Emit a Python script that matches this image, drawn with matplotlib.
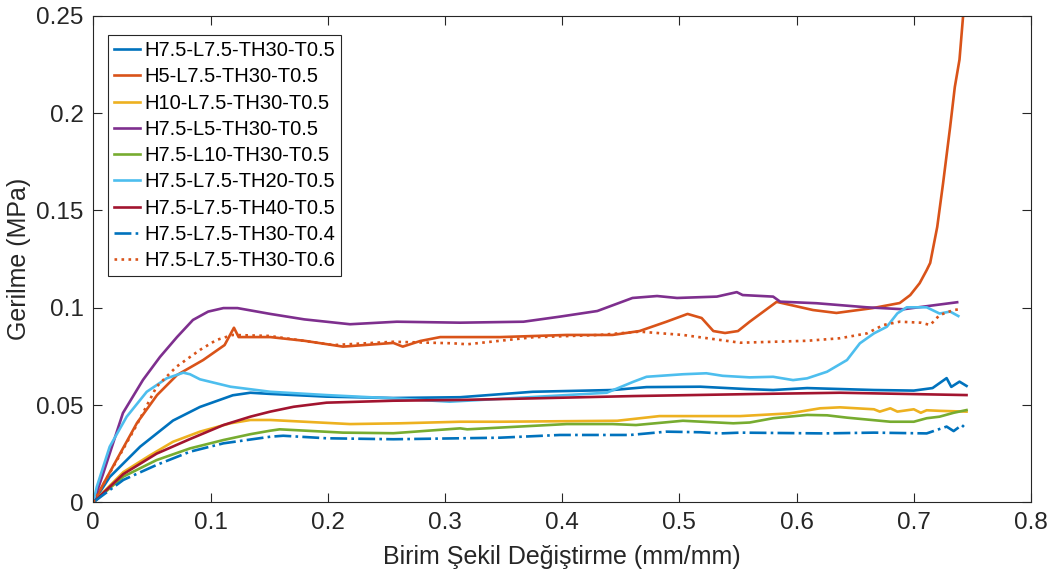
import matplotlib
matplotlib.use("Agg")
import matplotlib.pyplot as plt

plt.rcParams['font.family'] = ['Liberation Sans', 'DejaVu Sans']

labels = ["H7.5-L7.5-TH30-T0.5", "H5-L7.5-TH30-T0.5", "H10-L7.5-TH30-T0.5",
          "H7.5-L5-TH30-T0.5", "H7.5-L10-TH30-T0.5", "H7.5-L7.5-TH20-T0.5",
          "H7.5-L7.5-TH40-T0.5", "H7.5-L7.5-TH30-T0.4", "H7.5-L7.5-TH30-T0.6"]

x_blue = [0, 0.014, 0.040, 0.068, 0.091, 0.119, 0.134, 0.151, 0.199, 0.256, 0.313, 0.375, 0.443, 0.472,
          0.518, 0.557, 0.580, 0.609, 0.666, 0.70, 0.716, 0.728, 0.732, 0.739, 0.745]
y_blue = [0, 0.013, 0.0286, 0.042, 0.049, 0.055, 0.0563, 0.0557, 0.0543, 0.0536, 0.054, 0.0568, 0.0577, 0.0592,
          0.0594, 0.0582, 0.0577, 0.0587, 0.0577, 0.0574, 0.0587, 0.0638, 0.0593, 0.062, 0.0598]

x_h5 = [0, 0.01, 0.0373, 0.0544, 0.0714, 0.0937, 0.112, 0.120, 0.124, 0.151, 0.18, 0.213, 0.256, 0.264,
        0.279, 0.296, 0.347, 0.404, 0.443, 0.466, 0.489, 0.507, 0.519, 0.529, 0.539, 0.550, 0.560, 0.583,
        0.614, 0.634, 0.665, 0.688, 0.697, 0.705, 0.711, 0.714, 0.720, 0.725, 0.731, 0.735, 0.739, 0.742]
y_h5 = [0, 0.011, 0.0408, 0.0551, 0.0654, 0.0731, 0.0808, 0.0897, 0.0849, 0.0849, 0.083, 0.080, 0.0819, 0.080,
        0.0829, 0.0849, 0.0849, 0.086, 0.086, 0.088, 0.0928, 0.0968, 0.0947, 0.088, 0.087, 0.088, 0.0928, 0.103,
        0.0988, 0.0973, 0.0998, 0.1024, 0.1065, 0.1126, 0.1193, 0.123, 0.1415, 0.164, 0.1928, 0.2134, 0.2275, 0.2494]

x_h10 = [0, 0.0256, 0.048, 0.068, 0.091, 0.117, 0.134, 0.151, 0.219, 0.262, 0.313, 0.347, 0.447, 0.483,
         0.552, 0.594, 0.620, 0.637, 0.666, 0.671, 0.680, 0.686, 0.700, 0.706, 0.711, 0.722, 0.745]
y_h10 = [0, 0.0155, 0.0240, 0.0311, 0.0363, 0.0406, 0.0423, 0.0423, 0.0402, 0.0406, 0.0414, 0.0414, 0.0419, 0.0443,
         0.0443, 0.0457, 0.0483, 0.0488, 0.0478, 0.0466, 0.0483, 0.0466, 0.0478, 0.046, 0.0473, 0.047, 0.0466]

x_l5 = [0, 0.008, 0.0253, 0.0424, 0.0569, 0.0714, 0.085, 0.098, 0.111, 0.123, 0.151, 0.18, 0.219, 0.259,
        0.313, 0.367, 0.398, 0.430, 0.460, 0.481, 0.498, 0.532, 0.549, 0.554, 0.580, 0.586, 0.617, 0.660,
        0.691, 0.737]
y_l5 = [0, 0.014, 0.0459, 0.0629, 0.0747, 0.0849, 0.0937, 0.098, 0.0998, 0.0998, 0.0968, 0.094, 0.0915, 0.0928,
        0.0923, 0.0928, 0.0954, 0.0983, 0.105, 0.106, 0.105, 0.1057, 0.108, 0.1065, 0.1057, 0.1031, 0.1023, 0.1002,
        0.0992, 0.1028]

x_l10 = [0, 0.0256, 0.054, 0.0825, 0.111, 0.134, 0.151, 0.159, 0.213, 0.256, 0.313, 0.319, 0.404, 0.443,
         0.463, 0.503, 0.546, 0.560, 0.580, 0.609, 0.626, 0.643, 0.680, 0.700, 0.711, 0.722, 0.734, 0.745]
y_l10 = [0, 0.0132, 0.0217, 0.0277, 0.032, 0.035, 0.0368, 0.0375, 0.0358, 0.0355, 0.038, 0.0375, 0.0402, 0.0402,
         0.0397, 0.0419, 0.0406, 0.041, 0.0432, 0.0449, 0.0447, 0.0435, 0.0414, 0.0414, 0.0432, 0.044, 0.046, 0.0474]

x_th20 = [0, 0.003, 0.014, 0.0285, 0.0456, 0.0626, 0.0768, 0.0825, 0.091, 0.117, 0.151, 0.199, 0.256, 0.304,
          0.404, 0.438, 0.461, 0.472, 0.503, 0.523, 0.537, 0.560, 0.580, 0.597, 0.609, 0.626, 0.643, 0.654,
          0.666, 0.677, 0.686, 0.694, 0.711, 0.722, 0.731, 0.738]
y_th20 = [0, 0.008, 0.0286, 0.044, 0.0568, 0.0637, 0.0666, 0.0658, 0.0632, 0.0594, 0.0568, 0.0551, 0.0534, 0.0517,
          0.0551, 0.0563, 0.062, 0.0645, 0.0658, 0.0663, 0.065, 0.0642, 0.0645, 0.0628, 0.0637, 0.0671, 0.0731, 0.0817,
          0.0868, 0.0902, 0.0971, 0.1002, 0.1002, 0.097, 0.098, 0.0957]

x_th40 = [0, 0.0256, 0.054, 0.0825, 0.111, 0.134, 0.151, 0.171, 0.199, 0.256, 0.313, 0.375, 0.461, 0.560,
          0.637, 0.745]
y_th40 = [0, 0.0145, 0.025, 0.0325, 0.0397, 0.044, 0.0466, 0.0491, 0.0512, 0.0522, 0.0526, 0.0534, 0.0546, 0.0556,
          0.0563, 0.0551]

x_t04 = [0, 0.0256, 0.054, 0.0825, 0.111, 0.151, 0.162, 0.199, 0.256, 0.313, 0.347, 0.398, 0.458, 0.489,
         0.518, 0.535, 0.552, 0.623, 0.666, 0.711, 0.728, 0.734, 0.741, 0.745]
y_t04 = [0, 0.0115, 0.0192, 0.026, 0.0303, 0.0337, 0.0342, 0.0329, 0.0324, 0.0329, 0.0332, 0.0346, 0.0346, 0.0363,
         0.036, 0.0354, 0.0358, 0.0354, 0.0358, 0.0354, 0.0389, 0.0366, 0.0397, 0.0375]

x_t06 = [0, 0.0373, 0.054, 0.071, 0.091, 0.105, 0.119, 0.15, 0.205, 0.256, 0.307, 0.319, 0.375, 0.432,
         0.466, 0.503, 0.535, 0.552, 0.609, 0.637, 0.660, 0.674, 0.688, 0.706, 0.714, 0.722, 0.734, 0.739]
y_t06 = [0, 0.040, 0.0594, 0.0697, 0.0783, 0.0834, 0.086, 0.0855, 0.0808, 0.0825, 0.0817, 0.0812, 0.0848, 0.086,
         0.0877, 0.086, 0.0834, 0.082, 0.083, 0.0843, 0.0868, 0.0911, 0.0928, 0.0923, 0.0911, 0.0962, 0.0988, 0.0992]

series = [(x_blue, y_blue), (x_h5, y_h5), (x_h10, y_h10), (x_l5, y_l5), (x_l10, y_l10),
          (x_th20, y_th20), (x_th40, y_th40), (x_t04, y_t04), (x_t06, y_t06)]
colors = ['#0072BD', '#D95319', '#EDB120', '#7E2F8E', '#77AC30', '#4DBEEE', '#A2142F', '#0072BD', '#D95319']
styles = ['-', '-', '-', '-', '-', '-', '-', '-.', ':']

fig = plt.figure(figsize=(10.54, 5.78), dpi=100)
ax = fig.add_axes([93.3 / 1054, 75.7 / 578, (1031 - 93.3) / 1054, (502.3 - 15.8) / 578])

for (xs, ys), c, ls, lab in zip(series, colors, styles, labels):
    ax.plot(xs, ys, color=c, linestyle=ls, linewidth=1.9, label=lab)

ax.set_xlim(0, 0.8)
ax.set_ylim(0, 0.25)
ax.set_xticks([0, 0.1, 0.2, 0.3, 0.4, 0.5, 0.6, 0.7, 0.8])
ax.set_xticklabels(['0', '0.1', '0.2', '0.3', '0.4', '0.5', '0.6', '0.7', '0.8'])
ax.set_yticks([0, 0.05, 0.1, 0.15, 0.2, 0.25])
ax.set_yticklabels(['0', '0.05', '0.1', '0.15', '0.2', '0.25'])
ax.tick_params(direction='in', length=6.5, width=0.8, top=True, right=True,
               labelsize=17.5, colors='#262626', pad=7)
for sp in ax.spines.values():
    sp.set_color('#262626')
    sp.set_linewidth(0.8)

ax.set_xlabel('Birim Şekil Değiştirme (mm/mm)', fontsize=18, color='#262626', labelpad=8)
ax.set_ylabel('Gerilme (MPa)', fontsize=18, color='#262626', labelpad=4)

leg = ax.legend(loc='upper left', bbox_to_anchor=(0.0157, 0.9605), fontsize=14.5,
                frameon=True, fancybox=False, framealpha=1, edgecolor='#262626',
                handlelength=1.3, handletextpad=0.2, labelspacing=0.36, borderpad=0.3,
                borderaxespad=0)
leg.get_frame().set_linewidth(0.8)

fig.savefig('out.png', dpi=100)
